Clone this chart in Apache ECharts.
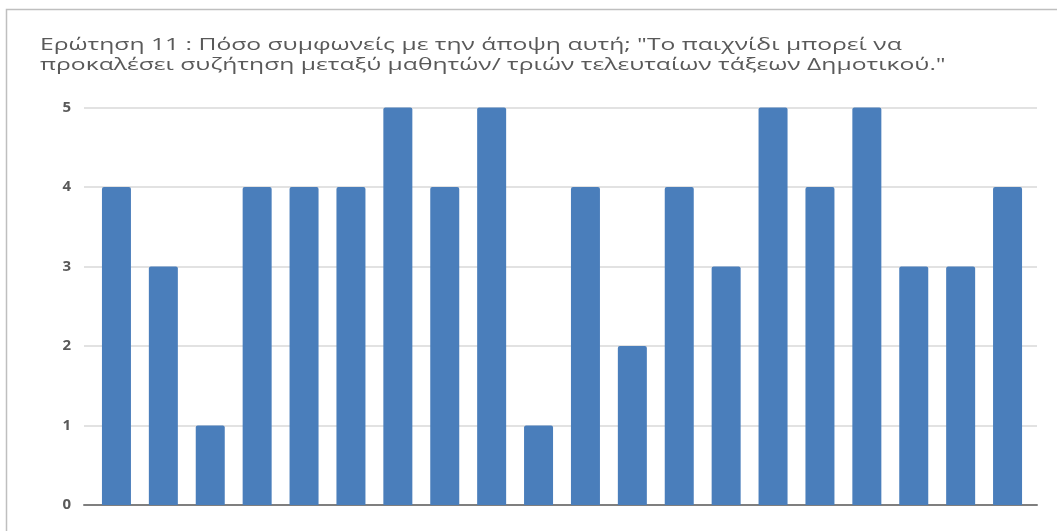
<!DOCTYPE html>
<html>
<head>
<meta charset="utf-8">
<style>
  html, body { margin: 0; padding: 0; background: #ffffff; }
  #chart { width: 1057px; height: 531px; }
</style>
<script src="https://cdn.jsdelivr.net/npm/echarts@6/dist/echarts.min.js"></script>
</head>
<body>
<div id="chart"></div>
<script>
// Responses to question 11, one bar per respondent
const titleLines = [
  'Ερώτηση 11 : Πόσο συμφωνείς με την άποψη αυτή; "Το παιχνίδι μπορεί να',
  'προκαλέσει συζήτηση μεταξύ μαθητών/ τριών τελευταίων τάξεων Δημοτικού."'
];
const categories = ['1', '2', '3', '4', '5', '6', '7', '8', '9', '10',
                    '11', '12', '13', '14', '15', '16', '17', '18', '19', '20'];
const values = [4, 3, 1, 4, 4, 4, 5, 4, 5, 1, 4, 2, 4, 3, 5, 4, 5, 3, 3, 4];
const yTicks = [0, 1, 2, 3, 4, 5];

const chart = echarts.init(document.getElementById('chart'), null, { renderer: 'canvas' });

const textColor = '#595959';
const font = '"Open Sans", "Noto Sans", sans-serif';

chart.setOption({
  animation: false,
  backgroundColor: '#ffffff',
  graphic: [
    {
      // chart frame
      type: 'rect',
      silent: true,
      shape: { x: 6.5, y: 9.5, width: 1100, height: 600 },
      style: { fill: 'none', stroke: '#bfbfbf', lineWidth: 1.5 }
    },
    {
      // wide two-line heading
      type: 'text',
      silent: true,
      x: 40,
      y: 35,
      scaleX: 1.45,
      style: {
        text: titleLines.join('\n'),
        fill: textColor,
        fontFamily: font,
        fontSize: 17,
        lineHeight: 20,
        verticalAlign: 'top',
        align: 'left'
      }
    }
  ],
  grid: [
    // value scale, gridlines and baseline
    { left: 84, right: 20, top: 107.5, bottom: 26, containLabel: false },
    // bars
    { left: 93, right: 26, top: 107.5, bottom: 26, containLabel: false }
  ],
  xAxis: [
    {
      gridIndex: 0, type: 'category', data: categories,
      axisLine: { show: true, lineStyle: { color: '#7f7f7f', width: 2 } },
      axisTick: { show: false }, axisLabel: { show: false }, splitLine: { show: false }
    },
    {
      gridIndex: 1, type: 'category', data: categories,
      axisLine: { show: false }, axisTick: { show: false }, axisLabel: { show: false }
    }
  ],
  yAxis: [
    {
      gridIndex: 0, type: 'value',
      min: yTicks[0], max: yTicks[yTicks.length - 1], interval: 1,
      axisLine: { show: false }, axisTick: { show: false },
      axisLabel: {
        color: textColor, fontFamily: font, fontSize: 15, fontWeight: 'bold', margin: 13
      },
      splitLine: { lineStyle: { color: '#d9d9d9', width: 1.5 } }
    },
    {
      gridIndex: 1, type: 'value',
      min: yTicks[0], max: yTicks[yTicks.length - 1], interval: 1,
      axisLine: { show: false }, axisTick: { show: false },
      axisLabel: { show: false }, splitLine: { show: false }
    }
  ],
  series: [{
    type: 'bar',
    xAxisIndex: 1,
    yAxisIndex: 1,
    data: values,
    barWidth: 29,
    itemStyle: { color: '#4a7ebb', borderRadius: [2, 2, 0, 0] },
    z: 3
  }]
});
</script>
</body>
</html>
